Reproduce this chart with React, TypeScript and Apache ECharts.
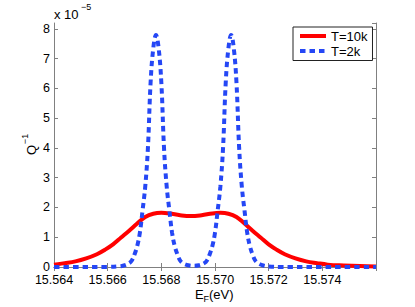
import React, { useEffect, useRef } from "react";
import * as echarts from "echarts";

// ---- data ----
const seriesNames = ["T=10k", "T=2k"];

const redX = [
  15.564, 15.5644, 15.5648, 15.5652, 15.5656, 15.5659, 15.5662, 15.5665, 15.5668, 15.5671,
  15.5674, 15.5677, 15.568, 15.5683, 15.5687, 15.5691, 15.5695, 15.5699, 15.5702, 15.5705,
  15.5708, 15.5711, 15.5714, 15.5717, 15.572, 15.5723, 15.5726, 15.573, 15.5734, 15.5738,
  15.5742, 15.5748, 15.5754, 15.576,
];
const redY = [
  0.08, 0.13, 0.19, 0.29, 0.43, 0.58, 0.76, 0.99, 1.22, 1.46,
  1.68, 1.79, 1.82, 1.8, 1.74, 1.71, 1.74, 1.8, 1.82, 1.79,
  1.68, 1.46, 1.22, 0.99, 0.76, 0.58, 0.43, 0.29, 0.19, 0.13,
  0.08, 0.05, 0.03, 0.02,
];

const blueX = [
  15.564, 15.565, 15.566, 15.5664, 15.5666, 15.5668, 15.5669, 15.567, 15.5671, 15.5672,
  15.5673, 15.5674, 15.5675, 15.5676, 15.5677, 15.5678, 15.5679, 15.568, 15.5681, 15.5682,
  15.5683, 15.5684, 15.5685, 15.5686, 15.5687, 15.5688, 15.569, 15.5692, 15.5694, 15.5696,
  15.5697, 15.5698, 15.5699, 15.57, 15.5701, 15.5702, 15.5703, 15.5704, 15.5705, 15.5706,
  15.5707, 15.5708, 15.5709, 15.571, 15.5711, 15.5712, 15.5713, 15.5714, 15.5715, 15.5716,
  15.5718, 15.572, 15.5724, 15.573, 15.576,
];
const blueY = [
  0, 0, 0.003, 0.02, 0.05, 0.13, 0.22, 0.42, 0.7, 1.15,
  1.9, 2.7, 4.0, 6.2, 7.35, 7.8, 7.35, 6.2, 4.0, 2.7,
  1.9, 1.15, 0.7, 0.42, 0.22, 0.13, 0.06, 0.04, 0.06, 0.13,
  0.22, 0.42, 0.7, 1.15, 1.9, 2.7, 4.0, 6.2, 7.35, 7.8,
  7.35, 6.2, 4.0, 2.7, 1.9, 1.15, 0.7, 0.42, 0.22, 0.13,
  0.05, 0.02, 0.003, 0, 0,
];

const xMin = 15.564;
const xMax = 15.576;
const xStep = 0.002;
const yMin = 0;
const yMax = 8.2;
const yStep = 1;

const FONT = "'Liberation Sans', Arial, Helvetica, sans-serif";
const AXIS_GRAY = "#808080";
const RED = "#ff0000";
const BLUE = "#2547f5";

const zip = (xs: number[], ys: number[]) => xs.map((x, i) => [x, ys[i]]);

export default function App() {
  const ref = useRef<HTMLDivElement>(null);

  useEffect(() => {
    if (!ref.current) return;
    const chart = echarts.init(ref.current, null, { renderer: "svg" });

    const tickCommon = {
      axisLine: { show: true, lineStyle: { color: AXIS_GRAY, width: 1 } },
      axisTick: { show: true, inside: true, length: 4, lineStyle: { color: AXIS_GRAY, width: 1 } },
      splitLine: { show: false },
    };

    chart.setOption({
      animation: false,
      backgroundColor: "#ffffff",
      textStyle: { fontFamily: FONT },
      grid: { left: 54, right: 39, top: 23, bottom: 40, containLabel: false },
      xAxis: [
        {
          type: "value",
          position: "bottom",
          min: xMin,
          max: xMax,
          interval: xStep,
          ...tickCommon,
          axisLabel: {
            color: "#000",
            fontSize: 12.5,
            lineHeight: 12,
            fontFamily: FONT,
            margin: 7,
            showMaxLabel: false,
            formatter: (v: number) => v.toFixed(3),
          },
        },
        {
          type: "value",
          position: "top",
          min: xMin,
          max: xMax,
          interval: xStep,
          ...tickCommon,
          axisLabel: { show: false },
        },
      ],
      yAxis: [
        {
          type: "value",
          position: "left",
          min: yMin,
          max: yMax,
          interval: yStep,
          ...tickCommon,
          axisLabel: {
            color: "#000",
            fontSize: 12.5,
            lineHeight: 11,
            fontFamily: FONT,
            margin: 4,
            showMaxLabel: false,
            formatter: (v: number) =>
              Math.abs(v - Math.round(v)) < 1e-9 ? String(Math.round(v)) : "",
          },
        },
        {
          type: "value",
          position: "right",
          min: yMin,
          max: yMax,
          interval: yStep,
          ...tickCommon,
          axisLabel: { show: false },
        },
      ],
      legend: {
        orient: "vertical",
        left: 293,
        top: 27,
        padding: [2.5, 5, 3, 5],
        itemWidth: 26,
        itemHeight: 14,
        itemGap: 2,
        borderColor: "#222",
        borderWidth: 1,
        backgroundColor: "#ffffff",
        textStyle: { color: "#000", fontSize: 13, fontFamily: FONT },
        lineStyle: { width: 4 },
        itemStyle: { color: "rgba(0,0,0,0)", borderWidth: 0, opacity: 0 },
        data: seriesNames,
      },
      series: [
        {
          name: seriesNames[0],
          type: "line",
          data: zip(redX, redY),
          showSymbol: false,
          symbol: "none",
          smooth: 0.4,
          lineStyle: { color: RED, width: 4 },
          itemStyle: { color: RED },
          z: 2,
        },
        {
          name: seriesNames[1],
          type: "line",
          data: zip(blueX, blueY),
          showSymbol: false,
          symbol: "none",
          smooth: 0.4,
          lineStyle: { color: BLUE, width: 4, type: [5.5, 4], cap: "butt" },
          itemStyle: { color: BLUE },
          z: 3,
        },
      ],
      graphic: [
        {
          type: "text",
          x: 54,
          y: 14,
          style: { text: "x 10", fontSize: 13, fontFamily: FONT, fill: "#000", textAlign: "left", textVerticalAlign: "middle" },
        },
        {
          type: "text",
          x: 81,
          y: 7,
          style: { text: "−5", fontSize: 9, fontFamily: FONT, fill: "#000", textAlign: "left", textVerticalAlign: "middle" },
        },
        {
          type: "text",
          x: 31,
          y: 150,
          rotation: Math.PI / 2,
          style: { text: "Q", fontSize: 13, fontFamily: FONT, fill: "#000", textAlign: "center", textVerticalAlign: "middle" },
        },
        {
          type: "text",
          x: 25,
          y: 139,
          rotation: Math.PI / 2,
          style: { text: "−1", fontSize: 9, fontFamily: FONT, fill: "#000", textAlign: "center", textVerticalAlign: "middle" },
        },
        {
          type: "text",
          x: 195,
          y: 294,
          style: { text: "E", fontSize: 13, fontFamily: FONT, fill: "#000", textAlign: "left", textVerticalAlign: "middle" },
        },
        {
          type: "text",
          x: 203.5,
          y: 299,
          style: { text: "F", fontSize: 9, fontFamily: FONT, fill: "#000", textAlign: "left", textVerticalAlign: "middle" },
        },
        {
          type: "text",
          x: 209,
          y: 294,
          style: { text: "(eV)", fontSize: 13, fontFamily: FONT, fill: "#000", textAlign: "left", textVerticalAlign: "middle" },
        },
      ],
    });

    return () => chart.dispose();
  }, []);

  return (
    <div
      ref={ref}
      style={{ position: "fixed", left: 0, top: 0, width: 415, height: 307, background: "#fff" }}
    />
  );
}
